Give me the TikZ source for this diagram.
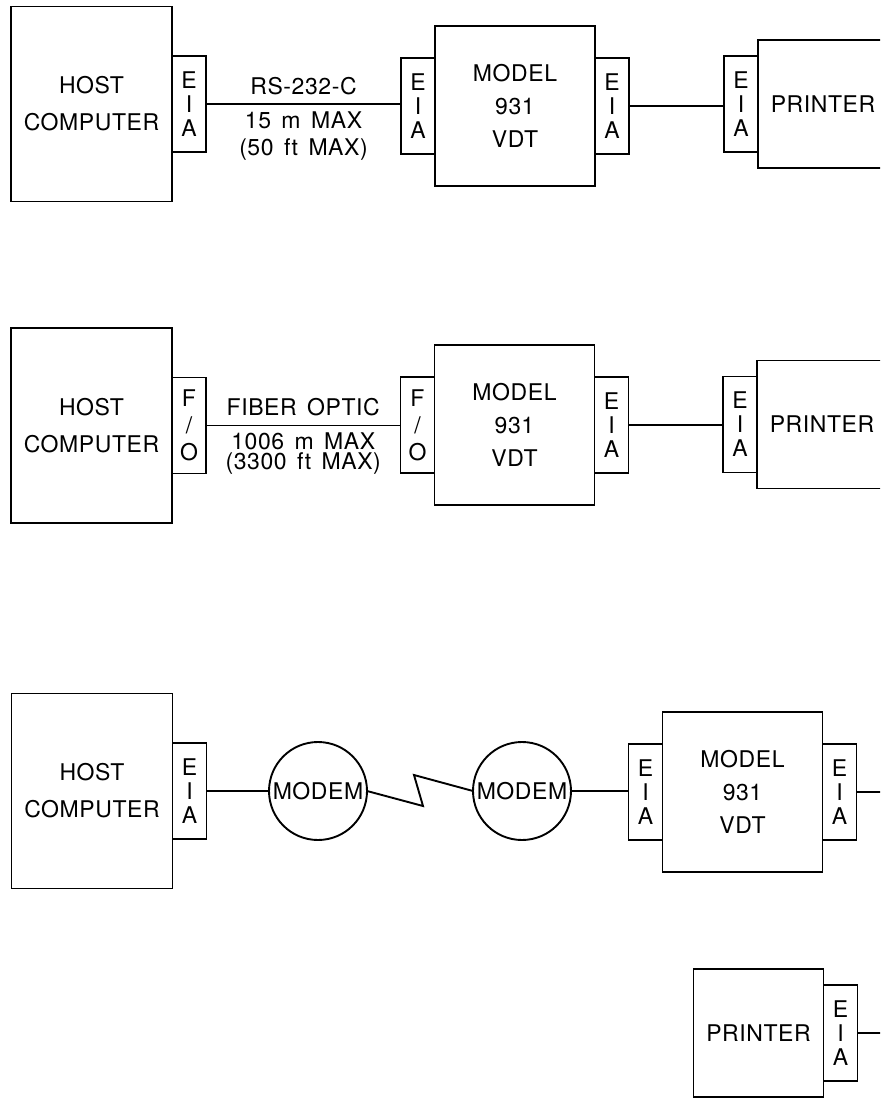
\documentclass[tikz,border=0pt]{standalone}
\usepackage{fontspec}
\setmainfont[LetterSpace=2.5,WordSpace=1.5]{TeX Gyre Heros}
\usetikzlibrary{positioning}

\begin{document}
\begin{tikzpicture}[x=0.5pt,y=-0.5pt,line width=0.95pt,font=\fontsize{11.5}{18.5}\selectfont,
  box/.style={draw,outer sep=0pt,inner sep=0pt,align=center},
  host/.style={box,minimum width=80.5pt,minimum height=97.5pt},
  vdt/.style={box,minimum width=80pt,minimum height=80pt,font=\fontsize{11.5}{16.5}\selectfont},
  prn/.style={box,minimum width=65pt,minimum height=64pt},
  port/.style={box,minimum width=17pt,minimum height=48pt,font=\fontsize{11.5}{12}\selectfont},
  modem/.style={draw,circle,outer sep=0pt,inner sep=0pt,minimum size=49pt},
  lbl/.style={midway,align=center}]
\useasboundingbox (0,0) rectangle (880,1098);
\clip (0,0) rectangle (880,1098);
% RS-232-C link
\node[host] (h1) at (91.5,104) {HOST\\COMPUTER};
\node[port,right=0pt of h1] (h1p) {E\\I\\A};
\node[vdt] (v1) at (515,106) {MODEL\\931\\VDT};
\node[port,left=0pt of v1] (v1a) {E\\I\\A};
\node[port,right=0pt of v1] (v1b) {E\\I\\A};
\node[prn] (p1) at (823,104) {PRINTER};
\node[port,left=0pt of p1] (p1p) {E\\I\\A};
\draw (h1p.east) -- node[lbl,yshift=9pt] {RS-232-C}
  node[lbl,yshift=-16pt,font=\fontsize{11.5}{13.5}\selectfont] {15 m MAX\\(50 ft MAX)} (h1p.east -| v1a.west);
\draw (v1b.east) -- (v1b.east -| p1p.west);
% fiber optic link
\node[host] (h2) at (91.5,425.5) {HOST\\COMPUTER};
\node[port,right=0pt of h2,font=\fontsize{11.5}{13.5}\selectfont] (h2p) {F\\/\\O};
\node[vdt] (v2) at (514.5,425) {MODEL\\931\\VDT};
\node[port,left=0pt of v2,font=\fontsize{11.5}{13.5}\selectfont] (v2a) {F\\/\\O};
\node[port,right=0pt of v2] (v2b) {E\\I\\A};
\node[prn] (p2) at (822,424.5) {PRINTER};
\node[port,left=0pt of p2] (p2p) {E\\I\\A};
\draw (h2p.east) -- node[lbl,yshift=9pt] {FIBER OPTIC}
  node[lbl,yshift=-14pt,font=\fontsize{11.5}{10}\selectfont] {1006 m MAX\\(3300 ft MAX)} (h2p.east -| v2a.west);
\draw (v2b.east) -- (v2b.east -| p2p.west);
% modem link
\node[host] (h3) at (92,791) {HOST\\COMPUTER};
\node[port,right=0pt of h3] (h3p) {E\\I\\A};
\node[modem] (m1) at (318,791) {MODEM};
\node[modem] (m2) at (522,791) {MODEM};
\node[vdt] (v3) at (742.5,792) {MODEL\\931\\VDT};
\node[port,left=0pt of v3] (v3a) {E\\I\\A};
\node[port,right=0pt of v3] (v3b) {E\\I\\A};
\coordinate (zz1) at (423,806);
\coordinate (zz2) at (414,775);
\coordinate (out3) at (900,792);
\draw (h3p.east) -- (h3p.east -| m1.west);
\draw (m1.east) -- (zz1) -- (zz2) -- (m2.west);
\draw (m2.east) -- (m2.east -| v3a.west);
\draw (v3b.east) -- (out3);
% printer on the modem side
\node[prn] (p4) at (758.5,1033) {PRINTER};
\node[port,right=0pt of p4] (p4p) {E\\I\\A};
\coordinate (out4) at (900,1031);
\draw (p4p.east) -- (p4p.east -| out4);
\end{tikzpicture}
\end{document}
